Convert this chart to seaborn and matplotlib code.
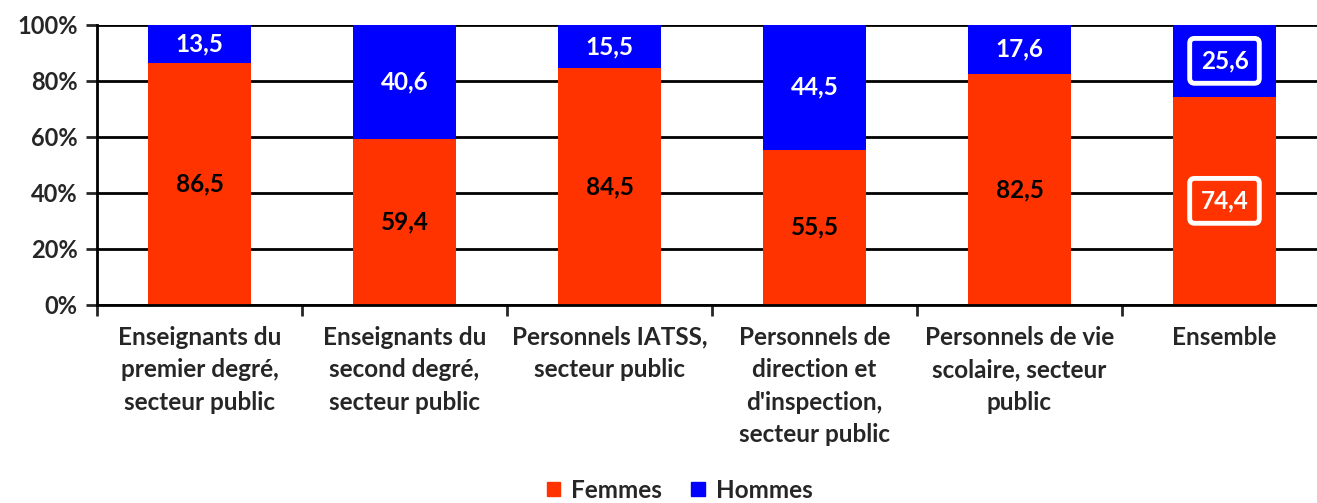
import numpy as np
import pandas as pd
import matplotlib
matplotlib.use("Agg")
import matplotlib.pyplot as plt
import seaborn as sns
from matplotlib.patches import Patch

categories = ["Enseignants du\npremier degré,\nsecteur public",
              "Enseignants du\nsecond degré,\nsecteur public",
              "Personnels IATSS,\nsecteur public",
              "Personnels de\ndirection et\nd'inspection,\nsecteur public",
              "Personnels de vie\nscolaire, secteur\npublic",
              "Ensemble"]
femmes = [86.5, 59.4, 84.5, 55.5, 82.5, 74.4]
hommes = [13.5, 40.6, 15.5, 44.5, 17.6, 25.6]

red = "#FF3300"
blue = "#0000FF"

sns.set_style("white")
plt.rcParams['font.family'] = ['Lato', 'DejaVu Sans']
plt.rcParams['font.weight'] = 'bold'

df = pd.DataFrame({"cat": categories, "Femmes": femmes, "Hommes": hommes})
df["total"] = df["Femmes"] + df["Hommes"]

fig = plt.figure(figsize=(13.17, 5.03), dpi=100)
ax = fig.add_axes([97/1317, 1-305/503, 1230/1317, 280/503])

# stacked: total in blue behind, femmes in red on top
sns.barplot(data=df, x="cat", y="total", color=blue, width=0.5, saturation=1, ax=ax,
            zorder=3, linewidth=0)
sns.barplot(data=df, x="cat", y="Femmes", color=red, width=0.5, saturation=1, ax=ax,
            zorder=3, linewidth=0)

ax.set_ylim(0, 100)
ax.set_xlim(-0.5, 5.5)
ax.set_yticks(np.arange(0, 101, 20))
ax.set_yticklabels([f"{v}%" for v in range(0, 101, 20)], fontsize=17, fontweight='bold')
ax.yaxis.grid(True, color='black', lw=2, zorder=0)
ax.set_axisbelow(True)
ax.tick_params(axis='y', length=8, width=2, direction='out', left=True, pad=6)
ax.set_xticks(range(len(categories)))
ax.set_xticklabels(categories, fontsize=17.5, fontweight='bold', linespacing=1.5, va='top')
ax.set_xticks(np.arange(-0.5, 6, 1), minor=True)
ax.tick_params(axis='x', which='major', length=0, pad=15)
ax.tick_params(axis='x', which='minor', length=8, width=2, direction='out', bottom=True)
ax.set_xlabel("")
ax.set_ylabel("")
for s in ["top", "right"]:
    ax.spines[s].set_visible(False)
for s in ["left", "bottom"]:
    ax.spines[s].set_color('black')
    ax.spines[s].set_linewidth(2)
    ax.spines[s].set_zorder(4)

for i, (f, h) in enumerate(zip(femmes, hommes)):
    fl = f"{f:.1f}".replace(".", ",")
    hl = f"{h:.1f}".replace(".", ",")
    if i == len(categories) - 1:
        box_f = dict(boxstyle="round,pad=0.45,rounding_size=0.2", fc=red, ec='white', lw=3.5)
        box_h = dict(boxstyle="round,pad=0.45,rounding_size=0.2", fc=blue, ec='white', lw=3.5)
        ax.text(i, f/2, fl, ha='center', va='center', fontsize=17.5, fontweight='bold', color='white', bbox=box_f, zorder=5)
        ax.text(i, f + h/2, hl, ha='center', va='center', fontsize=17.5, fontweight='bold', color='white', bbox=box_h, zorder=5)
    else:
        ax.text(i, f/2, fl, ha='center', va='center', fontsize=17.5, fontweight='bold', color='black', zorder=5)
        ax.text(i, f + h/2, hl, ha='center', va='center', fontsize=17.5, fontweight='bold', color='white', zorder=5)

handles = [Patch(color=red, label="Femmes"), Patch(color=blue, label="Hommes")]
fig.legend(handles=handles, loc='center', bbox_to_anchor=(0.516, 1-490/503), ncol=2, frameon=False,
           prop={'size': 17.5, 'weight': 'bold'}, handlelength=0.55, handleheight=0.55,
           handletextpad=0.45, columnspacing=1.2)

fig.savefig("out.png", dpi=100)
